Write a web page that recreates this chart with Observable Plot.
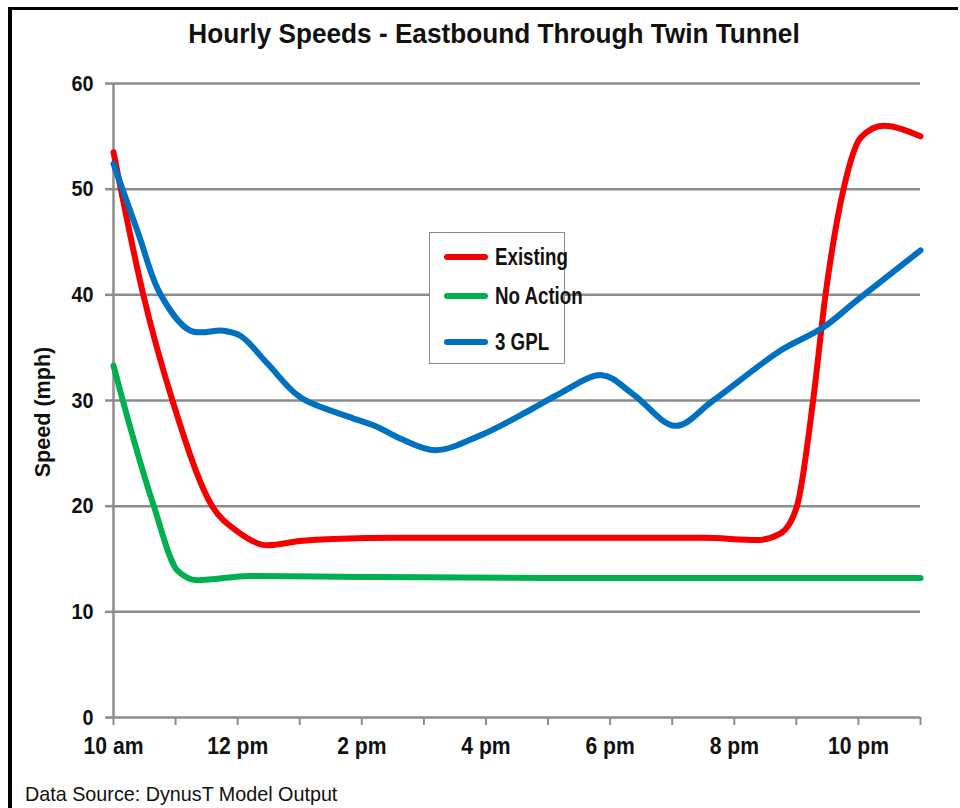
<!DOCTYPE html>
<html>
<head>
<meta charset="utf-8">
<script src="https://cdn.jsdelivr.net/npm/d3@7"></script>
<script src="https://cdn.jsdelivr.net/npm/@observablehq/plot@0.6"></script>
<style>
  body { margin: 0; background: #fff; }
  #wrap { position: relative; width: 960px; height: 808px; overflow: hidden; background: #fff;
    font-family: "Liberation Sans", Arial, Helvetica, sans-serif; color: #111; }
  #frameL { position: absolute; left: 8px; top: 7px; width: 4px; height: 801px; background: #000; }
  #frameT { position: absolute; left: 8px; top: 7px; width: 950px; height: 2.5px; background: #000; }
  #title { position: absolute; top: 18px; left: 0; width: 988px; text-align: center; font-weight: bold; font-size: 28px;
    transform: scaleX(0.935); transform-origin: 494px 0; white-space: nowrap; }
  #chart { position: absolute; left: 0; top: 0; }
  #ylabel { position: absolute; left: 43px; top: 412px; transform: translate(-50%, -50%) rotate(-90deg) scaleX(0.98);
    font-weight: bold; font-size: 22px; white-space: nowrap; }
  #caption { position: absolute; left: 25px; top: 782px; font-size: 21px; white-space: nowrap;
    transform: scaleX(0.94); transform-origin: 0 0; }
  #legend { position: absolute; left: 429px; top: 232px; width: 134px; height: 130px;
    border: 1.5px solid #8a8a8a; background: #fff; }
  .item { position: absolute; left: 0; height: 30px; display: flex; align-items: center; }
  .sw { width: 44px; height: 6px; border-radius: 3px; margin-left: 14px; margin-right: 7px; flex: none; }
  .lab { display: inline-block; font-weight: bold; font-size: 24px; white-space: nowrap;
    transform: scaleX(0.78); transform-origin: 0 50%; }
</style>
</head>
<body>
<div id="wrap">
  <div id="frameL"></div>
  <div id="frameT"></div>
  <div id="chart"></div>
  <div id="title"></div>
  <div id="ylabel"></div>
  <div id="legend"></div>
  <div id="caption"></div>
</div>
<script>
// ---- Text ----
const titleText = "Hourly Speeds - Eastbound Through Twin Tunnel";
const yLabelText = "Speed (mph)";
const captionText = "Data Source: DynusT Model Output";

// ---- Series ----
const seriesNames = ["Existing", "No Action", "3 GPL"];
const seriesColors = ["#f50000", "#00b04f", "#0070c0"];

// Existing (hour of day, speed mph)
const existingHours = [10, 10.48, 10.95, 11.59, 12.0, 12.48, 13.0, 13.54, 14.6, 16, 18, 19.5, 20.37, 20.74, 21.01, 21.27, 21.47, 21.76, 22.04, 22.4, 23];
const existingSpeed = [53.5, 40, 30, 20, 17.6, 16.3, 16.7, 16.9, 17.0, 17.0, 17.0, 17.0, 16.8, 17.4, 20, 30, 40, 50, 54.9, 56.0, 55.0];

// No Action
const noActionHours = [10, 10.15, 10.65, 11.03, 11.35, 12.2, 14, 17, 20, 23];
const noActionSpeed = [33.3, 30, 20, 13.9, 13.0, 13.4, 13.3, 13.2, 13.2, 13.2];

// 3 GPL
const gplHours = [10, 10.4, 10.76, 11.24, 11.77, 12.05, 12.48, 13.01, 13.82, 14.25, 14.62, 15.19, 15.91, 16.71, 17.14, 17.87, 18.37, 19.05, 19.66, 20.74, 21.43, 21.98, 23];
const gplSpeed  = [52.4, 45.8, 40, 36.6, 36.6, 36.1, 33.5, 30.3, 28.4, 27.5, 26.4, 25.3, 26.7, 29.1, 30.5, 32.4, 30.6, 27.6, 30.0, 34.7, 36.9, 39.5, 44.2];

// ---- Axes ----
const yTicks = [0, 10, 20, 30, 40, 50, 60];
const hourTicks = [10, 11, 12, 13, 14, 15, 16, 17, 18, 19, 20, 21, 22, 23];
const xLabelHours = [10, 12, 14, 16, 18, 20, 22];
const xLabels = ["10 am", "12 pm", "2 pm", "4 pm", "6 pm", "8 pm", "10 pm"];

const FONT = getComputedStyle(document.getElementById("wrap")).fontFamily;
const GRID = "#8c8c8c";

const toRows = (hs, vs) => hs.map((h, i) => ({hour: h, speed: vs[i]}));
const existingRows = toRows(existingHours, existingSpeed);
const noActionRows = toRows(noActionHours, noActionSpeed);
const gplRows = toRows(gplHours, gplSpeed);

const lineOpts = {x: "hour", y: "speed", strokeWidth: 6, strokeLinecap: "round", strokeLinejoin: "round"};

const chart = Plot.plot({
  width: 960,
  height: 770,
  marginLeft: 113,
  marginRight: 40,
  marginTop: 83,
  marginBottom: 53,
  x: {domain: [10, 23]},
  y: {domain: [0, 60]},
  style: {fontFamily: FONT, fontWeight: "bold", background: "transparent", overflow: "visible", color: "#111"},
  marks: [
    Plot.ruleY(yTicks.filter(d => d > 0), {stroke: GRID, strokeWidth: 2.5}),
    Plot.axisX({ticks: hourTicks, tickSize: 8, tickFormat: () => "", stroke: GRID, strokeWidth: 2, label: null}),
    Plot.axisX({ticks: xLabelHours, tickSize: 0, tickPadding: 19, tickFormat: (d) => xLabels[xLabelHours.indexOf(d)], fontSize: 24, label: null, className: "xlab"}),
    Plot.axisY({ticks: yTicks, tickSize: 8, tickPadding: 12, stroke: GRID, strokeWidth: 2.5, fontSize: 22, label: null, className: "ylab"}),
    Plot.ruleY([0], {stroke: GRID, strokeWidth: 2.5}),
    Plot.ruleX([10], {y1: 0, y2: 60, stroke: GRID, strokeWidth: 2.5}),
    Plot.line(existingRows, {...lineOpts, stroke: seriesColors[0], curve: "monotone-x"}),
    Plot.line(noActionRows, {...lineOpts, stroke: seriesColors[1], curve: "monotone-x"}),
    Plot.line(gplRows, {...lineOpts, stroke: seriesColors[2], curve: "catmull-rom"})
  ]
});

// condense axis text horizontally around each label's anchor (x only)
function condense(sel, s) {
  chart.querySelectorAll(sel).forEach(t => {
    let x = parseFloat(t.getAttribute("x"));
    if (!isFinite(x)) x = 0;
    const tr = t.getAttribute("transform") || "";
    t.setAttribute("transform", `${tr} translate(${x},0) scale(${s},1) translate(${-x},0)`.trim());
  });
}
condense("g.xlab text", 0.88);
condense("g.ylab text", 0.9);

document.getElementById("chart").appendChild(chart);

document.getElementById("title").textContent = titleText;
document.getElementById("ylabel").textContent = yLabelText;
document.getElementById("caption").textContent = captionText;

const legend = document.getElementById("legend");
const itemTops = [9, 48, 94];
seriesNames.forEach((name, i) => {
  const it = document.createElement("div");
  it.className = "item";
  it.style.top = itemTops[i] + "px";
  const sw = document.createElement("div");
  sw.className = "sw";
  sw.style.background = seriesColors[i];
  const lab = document.createElement("span");
  lab.className = "lab";
  lab.textContent = name;
  it.appendChild(sw);
  it.appendChild(lab);
  legend.appendChild(it);
});
</script>
</body>
</html>
